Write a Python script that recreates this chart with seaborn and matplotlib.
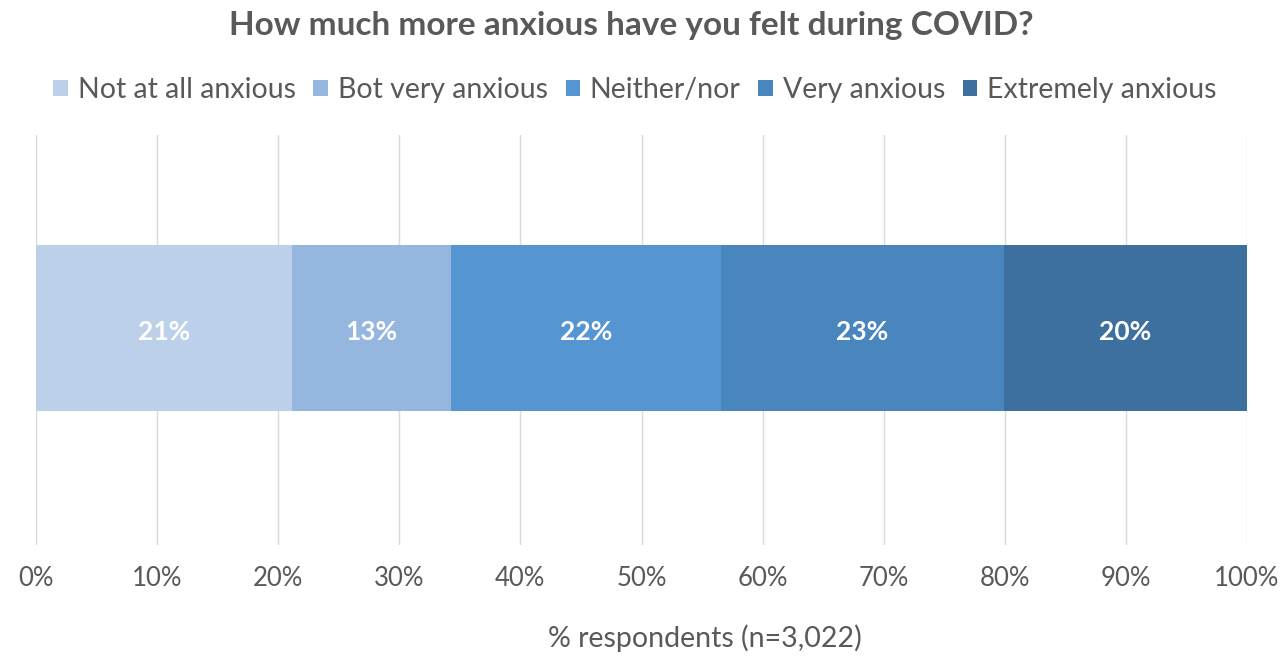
import matplotlib
matplotlib.use("Agg")
import matplotlib.pyplot as plt
import seaborn as sns
import pandas as pd
import numpy as np
from matplotlib.patches import Patch

categories = ["Not at all anxious", "Bot very anxious", "Neither/nor", "Very anxious", "Extremely anxious"]
values = [21.1, 13.2, 22.3, 23.3, 20.1]
labels = ["21%", "13%", "22%", "23%", "20%"]
colors = ["#BDD0E9", "#95B6DF", "#5596D2", "#4A86BE", "#3E709F"]
xticks = [0, 10, 20, 30, 40, 50, 60, 70, 80, 90, 100]
xtick_labels = ["0%", "10%", "20%", "30%", "40%", "50%", "60%", "70%", "80%", "90%", "100%"]

sns.set_theme(style="white")
plt.rcParams["font.family"] = ["Lato", "DejaVu Sans"]
text_color = "#595959"

fig = plt.figure(figsize=(12.81, 6.64), dpi=100)
ax = fig.add_axes([36/1281, 1-545/664, 1211/1281, 410/664])

cum = np.cumsum(values)
df = pd.DataFrame({"group": ["All"]*len(values), "cum": cum, "cat": categories})
# draw cumulative bars from the largest down so they stack visually
for i in range(len(values)-1, -1, -1):
    sns.barplot(data=df.iloc[[i]], x="cum", y="group", color=colors[i], width=0.405,
                saturation=1, ax=ax, zorder=3, linewidth=0)

starts = cum - np.array(values)
for s, v, lab in zip(starts, values, labels):
    ax.text(s + v/2, 0.01, lab, ha="center", va="center", color="white",
            fontsize=19, fontweight="bold", zorder=5)

ax.set_xlim(0, 100)
ax.set_ylim(0.53, -0.47)
ax.set_xticks(xticks)
ax.set_xticklabels(xtick_labels, color=text_color, fontsize=18.5)
ax.tick_params(axis="x", length=0, pad=15)
ax.set_yticks([])
ax.set_ylabel("")
ax.set_xlabel("% respondents (n=3,022)", color=text_color, fontsize=20.5, va="center")
ax.xaxis.set_label_coords((705-36)/1211, -(638-545)/410)
ax.grid(axis="x", color="#D9D9D9", linewidth=1, zorder=0)
ax.set_axisbelow(True)
for sp in ax.spines.values():
    sp.set_visible(False)

fig.text(0.493, 1-26/664, "How much more anxious have you felt during COVID?",
         ha="center", va="center", fontsize=24, fontweight="bold", color=text_color)

handles = [Patch(facecolor=c, edgecolor="none", label=l) for c, l in zip(colors, categories)]
fig.legend(handles=handles, loc="center", bbox_to_anchor=(635/1281, 1-90/664), ncol=5,
           frameon=False, fontsize=20.5, handlelength=0.5, handleheight=0.5,
           handletextpad=0.35, columnspacing=0.63, labelcolor=text_color)

fig.savefig("out.png", dpi=100)
